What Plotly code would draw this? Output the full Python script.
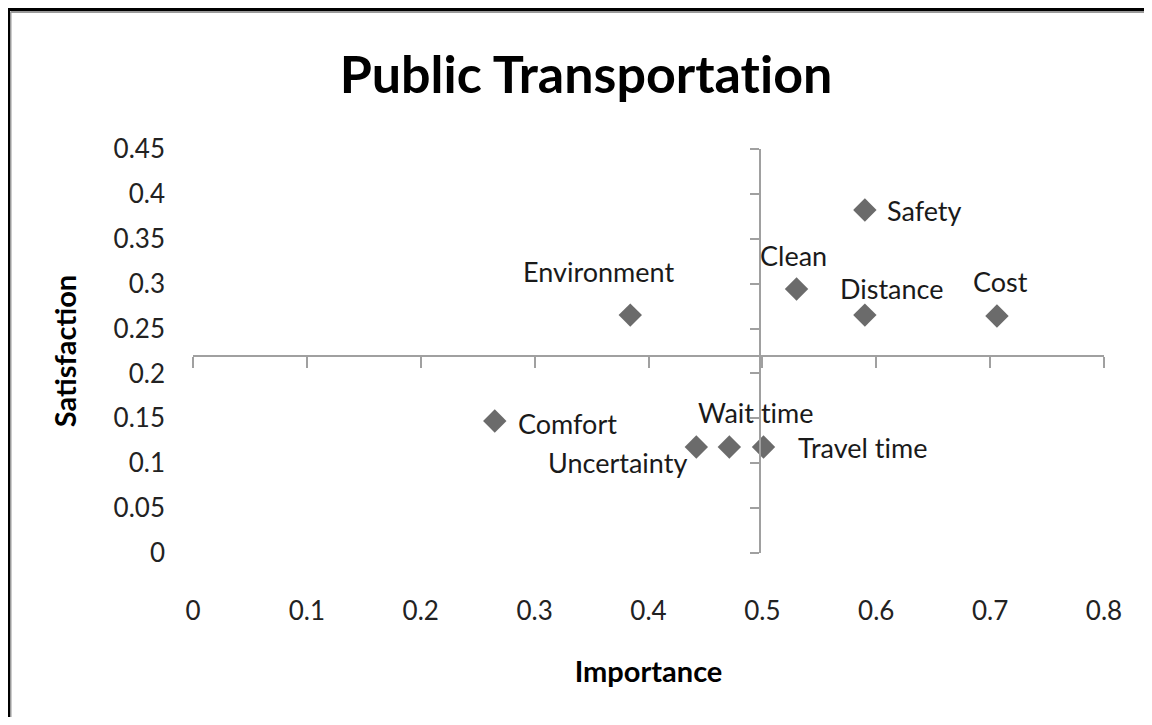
import plotly.graph_objects as go

# Importance / satisfaction of each public transport factor
factors = ["Safety", "Clean", "Distance", "Cost", "Environment",
           "Comfort", "Uncertainty", "Wait time", "Travel time"]
importance = [0.590, 0.530, 0.590, 0.706, 0.384, 0.265, 0.442, 0.471, 0.501]
satisfaction = [0.382, 0.294, 0.265, 0.264, 0.265, 0.147, 0.118, 0.118, 0.118]

x_ticks = [0, 0.1, 0.2, 0.3, 0.4, 0.5, 0.6, 0.7, 0.8]
x_tick_text = ["0", "0.1", "0.2", "0.3", "0.4", "0.5", "0.6", "0.7", "0.8"]
y_ticks = [0, 0.05, 0.1, 0.15, 0.2, 0.25, 0.3, 0.35, 0.4, 0.45]
y_tick_text = ["0", "0.05", "0.1", "0.15", "0.2", "0.25", "0.3", "0.35", "0.4", "0.45"]

# axes cross at the average point (quadrant chart)
x_cross = sum(importance) / len(importance)
y_cross = sum(satisfaction) / len(satisfaction)

# data label offsets in pixels from the marker centre (dx, dy up)
label_offset = {
    "Safety": (60, 0), "Clean": (-3, 34), "Distance": (27, 27),
    "Cost": (4, 34), "Environment": (-32, 44), "Comfort": (73, -2),
    "Uncertainty": (-79, -15), "Wait time": (27, 35), "Travel time": (99, 0),
}

# the page has an 8px body margin on every side; keep the figure inside the
# window so no scrollbars appear
W, H = 1136, 709
L, R, T, B = 185, 40, 141, 164
FONT = "Lato, Carlito, Calibri, sans-serif"
AXIS_GREY = "#a0a0a0"


def no_lig(s):
    # keep Lato from joining "ti" into a ligature
    return s.replace("ti", "t\u200ci")


def px_x(px):
    return (px - L) / (W - L - R)


def px_y(py):
    return (H - B - py) / (H - T - B)


fig = go.Figure()
fig.add_trace(go.Scatter(
    x=importance, y=satisfaction, mode="markers",
    marker=dict(symbol="diamond", size=18, color="#6b6b6b"),
    showlegend=False, hoverinfo="text", text=factors))
# helper trace so the crossing axes get drawn
fig.add_trace(go.Scatter(x=[], y=[], xaxis="x2", yaxis="y2", showlegend=False))

for name, xv, yv in zip(factors, importance, satisfaction):
    dx, dy = label_offset[name]
    fig.add_annotation(x=xv, y=yv, text=no_lig(name), showarrow=False,
                       xshift=dx, yshift=dy,
                       font=dict(family=FONT, size=27, color="#1a1a1a"))

x_range = [x_ticks[0], x_ticks[-1]]
y_range = [y_ticks[0], y_ticks[-1]]

fig.update_layout(
    width=W, height=H,
    margin=dict(l=L, r=R, t=T, b=B),
    paper_bgcolor="white", plot_bgcolor="white",
    title=dict(text="<b>" + no_lig("Public Transportation") + "</b>",
               x=578 / W, xanchor="center",
               y=1 - 67 / H, yanchor="middle",
               font=dict(family=FONT, size=52, color="black")),
    xaxis=dict(range=x_range, tickvals=x_ticks, ticktext=x_tick_text,
               showgrid=False, zeroline=False, showline=False, ticks="",
               ticklabelstandoff=40,
               tickfont=dict(family=FONT, size=26, color="#222"),
               title=dict(text="<b>Importance</b>", standoff=36,
                          font=dict(family=FONT, size=29, color="black"))),
    yaxis=dict(range=y_range, tickvals=y_ticks, ticktext=y_tick_text,
               showgrid=False, zeroline=False, showline=False, ticks="",
               ticklabelstandoff=27,
               tickfont=dict(family=FONT, size=26, color="#222"),
               title=dict(text="<b>Satisfaction</b>", standoff=28,
                          font=dict(family=FONT, size=29, color="black"))),
    xaxis2=dict(overlaying="x", anchor="free", position=y_cross / y_range[1],
                range=x_range, tickvals=x_ticks, showticklabels=False,
                showgrid=False, zeroline=False,
                showline=True, linecolor=AXIS_GREY, linewidth=2,
                ticks="outside", ticklen=11, tickwidth=2, tickcolor=AXIS_GREY),
    yaxis2=dict(overlaying="y", anchor="free", position=x_cross / x_range[1],
                side="left", range=y_range, tickvals=y_ticks,
                showticklabels=False, showgrid=False, zeroline=False,
                showline=True, linecolor=AXIS_GREY, linewidth=2,
                ticks="outside", ticklen=9, tickwidth=2, tickcolor=AXIS_GREY),
)

# chart frame: only its top and left edges fall inside the picture
for x0, y0, x1, y1, colour, width in [
        (2.5, 4, W, 4, "#9a9a9a", 2), (2.5, 4, 2.5, H, "#9a9a9a", 2),
        (0, 1.5, W, 1.5, "black", 3), (0.5, 0, 0.5, H, "black", 3)]:
    fig.add_shape(type="line", xref="paper", yref="paper", layer="above",
                  x0=px_x(x0), x1=px_x(x1), y0=px_y(y0), y1=px_y(y1),
                  line=dict(color=colour, width=width))

fig.write_html("out.html")
